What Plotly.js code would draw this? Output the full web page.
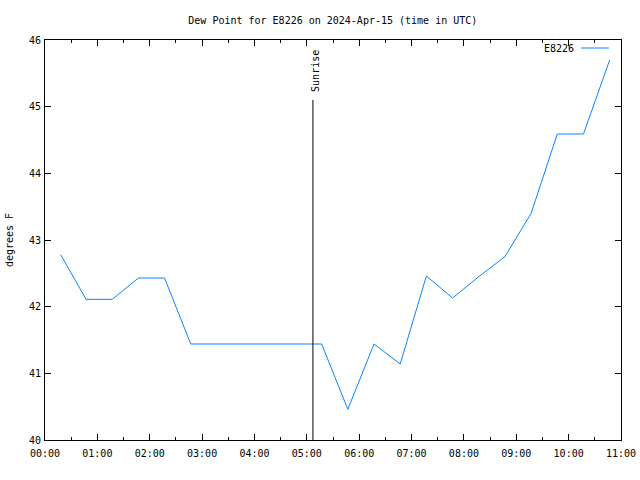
<!DOCTYPE html>
<html>
<head>
<meta charset="utf-8">
<script src="https://cdn.plot.ly/plotly-3.0.1.min.js"></script>
<style>html,body{margin:0;padding:0;background:#fff;}#chart{width:640px;height:480px;}</style>
</head>
<body>
<div id="chart"></div>
<script>
var day = "2024-04-15";
var times = ["00:18","00:47","01:17","01:47","02:17","02:47","03:17","03:47","04:17","04:47","05:17","05:47","06:17","06:47","07:17","07:47","08:17","08:47","09:17","09:47","10:17","10:47"];
var dewPoint = [42.78,42.11,42.11,42.43,42.43,41.44,41.44,41.44,41.44,41.44,41.44,40.46,41.44,41.14,42.46,42.13,42.45,42.75,43.40,44.59,44.59,45.70];
var seriesName = "E8226";
var sunriseTime = "05:07";
var sunriseTop = 45.1;
var chartTitle = "Dew Point for E8226 on 2024-Apr-15 (time in UTC)";
var yTitle = "degrees F";

var fontFam = "DejaVu Sans Mono, monospace";
var xs = times.map(function(t){ return day + " " + t; });

var trace = {
  x: xs, y: dewPoint, type: "scatter", mode: "lines", name: seriesName,
  line: {color: "#0a84ff", width: 1}, showlegend: false
};

var layout = {
  width: 640, height: 480,
  margin: {l: 45, r: 19, t: 40, b: 40},
  paper_bgcolor: "#fff", plot_bgcolor: "#fff",
  font: {family: fontFam, size: 10, color: "#000"},
  title: {text: chartTitle, x: 0.52, xanchor: "center", y: 0.958, yanchor: "middle", font: {family: fontFam, size: 10, color: "#000"}},
  xaxis: {
    type: "date",
    range: [day + " 00:00", day + " 11:00"],
    dtick: 3600000, tick0: day + " 00:00", tickformat: "%H:%M",
    ticks: "inside", ticklen: 6, tickcolor: "#000", tickwidth: 1,
    minor: {dtick: 1800000, ticks: "inside", ticklen: 3, tickcolor: "#000"},
    showline: true, linecolor: "#000", linewidth: 1, mirror: "allticks",
    showgrid: false, zeroline: false, ticklabelstandoff: 4,
    tickfont: {family: fontFam, size: 10, color: "#000"}
  },
  yaxis: {
    range: [40, 46], dtick: 1,
    ticks: "inside", ticklen: 6, tickcolor: "#000", tickwidth: 1,
    showline: true, linecolor: "#000", linewidth: 1, mirror: "allticks",
    showgrid: false, zeroline: false, ticklabelstandoff: 1,
    tickfont: {family: fontFam, size: 10, color: "#000"},
    title: {text: yTitle, standoff: 13, font: {family: fontFam, size: 10, color: "#000"}}
  },
  shapes: [
    {type: "line", xref: "x", yref: "y", x0: day + " " + sunriseTime, x1: day + " " + sunriseTime, y0: 40, y1: sunriseTop, line: {color: "#000", width: 1}},
    {type: "line", xref: "paper", yref: "paper", x0: 0.9306, x1: 0.979, y0: 0.98, y1: 0.98, line: {color: "#0a84ff", width: 1}}
  ],
  annotations: [
    {text: "Sunrise", xref: "x", yref: "y", x: day + " " + sunriseTime, y: sunriseTop, textangle: -90, showarrow: false, xanchor: "center", yanchor: "bottom", xshift: 2, yshift: 6, font: {family: fontFam, size: 10, color: "#000"}},
    {text: seriesName, xref: "paper", yref: "paper", x: 0.922, y: 0.98, xanchor: "right", yanchor: "middle", showarrow: false, font: {family: fontFam, size: 10, color: "#000"}}
  ]
};

Plotly.newPlot("chart", [trace], layout, {displayModeBar: false, staticPlot: true});
</script>
</body>
</html>
